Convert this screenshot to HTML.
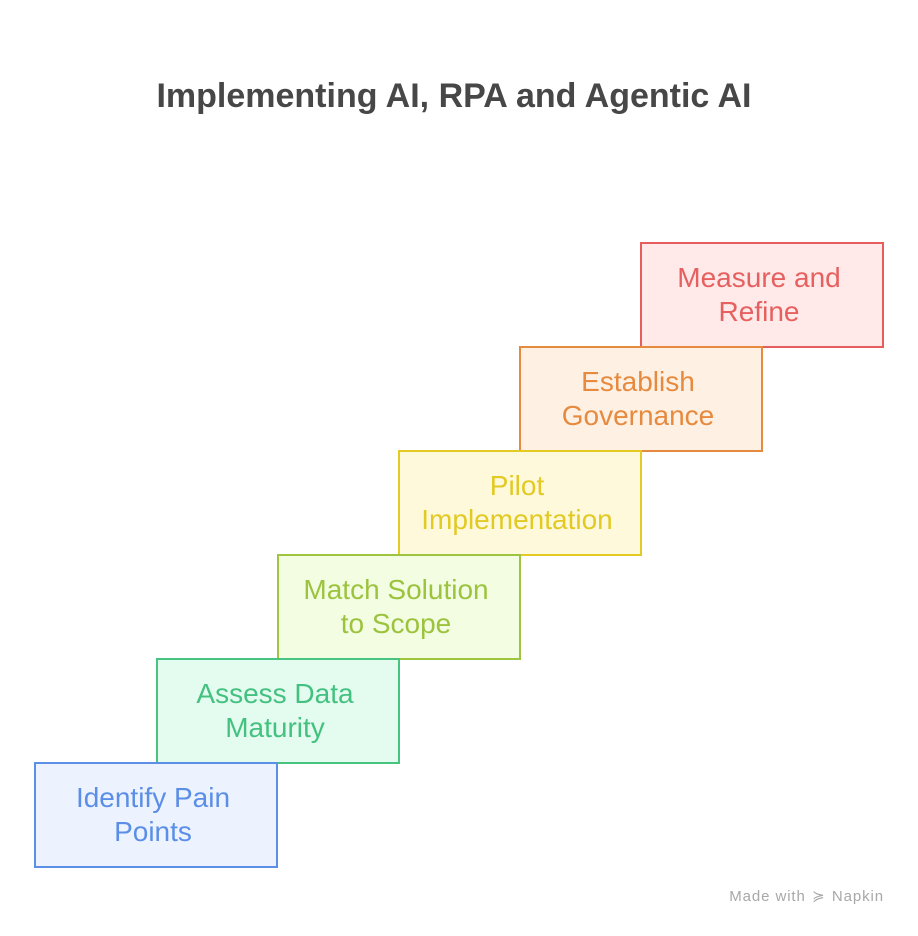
<!DOCTYPE html>
<html><head><meta charset="utf-8"><style>
html,body{margin:0;padding:0;background:#fff;}
body{width:918px;height:936px;position:relative;overflow:hidden;font-family:"Liberation Sans",Arial,sans-serif;}
.t{position:absolute;left:-5px;width:918px;top:76px;text-align:center;font-weight:bold;font-size:34px;color:#474747;line-height:40px;letter-spacing:0px;}
.b{position:absolute;width:244px;height:106px;box-sizing:border-box;border:2px solid;display:flex;align-items:center;justify-content:center;text-align:center;font-size:28px;line-height:34px;padding-right:6px;}
.wm{position:absolute;left:700px;width:184px;text-align:right;top:887px;font-size:15px;color:#a8a8a8;line-height:20px;letter-spacing:0.9px;}
</style></head><body>
<div class="t">Implementing AI, RPA and Agentic AI</div>
<div class="b" style="left:640px;top:242px;border-color:#e55d5d;background:#ffe9e9;color:#e5605f;">Measure and<br>Refine</div>
<div class="b" style="left:519px;top:346px;border-color:#e68a3d;background:#fff0e4;color:#e58a3e;">Establish<br>Governance</div>
<div class="b" style="left:398px;top:450px;border-color:#e4cb24;background:#fff9db;color:#e2c923;">Pilot<br>Implementation</div>
<div class="b" style="left:277px;top:554px;border-color:#9dc53f;background:#f3fde1;color:#9cc33e;">Match Solution<br>to Scope</div>
<div class="b" style="left:156px;top:658px;border-color:#47c47f;background:#e3fcef;color:#44c180;">Assess Data<br>Maturity</div>
<div class="b" style="left:34px;top:762px;border-color:#5b8fe8;background:#ecf2fe;color:#5b8ee6;">Identify Pain<br>Points</div>
<div class="wm">Made with <span style="display:inline-block;width:16px;text-align:center;">≽</span> Napkin</div>
</body></html>
